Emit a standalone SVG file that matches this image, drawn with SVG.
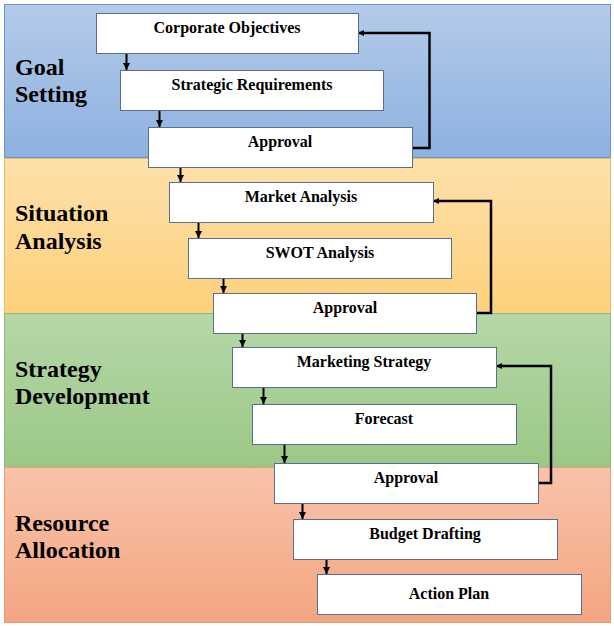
<svg xmlns="http://www.w3.org/2000/svg" width="614" height="626" viewBox="0 0 614 626">
  <defs>
    <linearGradient id="gBlue" x1="0" y1="0" x2="0" y2="1">
      <stop offset="0" stop-color="#b4cbe9"/>
      <stop offset="1" stop-color="#8db1df"/>
    </linearGradient>
    <linearGradient id="gOrange" x1="0" y1="0" x2="0" y2="1">
      <stop offset="0" stop-color="#fee0aa"/>
      <stop offset="1" stop-color="#fdd17b"/>
    </linearGradient>
    <linearGradient id="gGreen" x1="0" y1="0" x2="0" y2="1">
      <stop offset="0" stop-color="#b6d7a8"/>
      <stop offset="1" stop-color="#9bc886"/>
    </linearGradient>
    <linearGradient id="gSalmon" x1="0" y1="0" x2="0" y2="1">
      <stop offset="0" stop-color="#f9c3aa"/>
      <stop offset="1" stop-color="#f4a581"/>
    </linearGradient>
    <marker id="ah" viewBox="0 0 10 10" refX="10" refY="5" markerWidth="7" markerHeight="7" markerUnits="userSpaceOnUse" orient="auto">
      <path d="M0,0 L10,5 L0,10 z" fill="#000"/>
    </marker>
    <marker id="ahs" viewBox="0 0 10 10" refX="10" refY="5" markerWidth="6" markerHeight="6" markerUnits="userSpaceOnUse" orient="auto">
      <path d="M0,0 L10,5 L0,10 z" fill="#000"/>
    </marker>
  </defs>
  <style>
    .band { stroke-width: 1; }
    .box { fill: #ffffff; stroke: #5b6f8c; stroke-width: 1; }
    .bt { font-family: "Liberation Serif", "Times New Roman", serif; font-weight: bold; font-size: 16px; fill: #000; text-anchor: middle; }
    .lbl { font-family: "Liberation Serif", "Times New Roman", serif; font-weight: bold; font-size: 24px; fill: #000; }
    .arr { fill: none; stroke: #000; stroke-width: 2; marker-end: url(#ah); }
    .fb { fill: none; stroke: #000; stroke-width: 2.5; marker-end: url(#ahs); }
  </style>

  <rect width="614" height="626" fill="#ffffff"/>

  <g id="bands">
    <g id="band-goal">
      <rect class="band" x="4.5" y="4.5" width="606" height="153" fill="url(#gBlue)" stroke="#6f93c6"/>
      <text class="lbl" x="15" y="75">Goal</text>
      <text class="lbl" x="15" y="102">Setting</text>
    </g>
    <g id="band-situation">
      <rect class="band" x="4.5" y="158.5" width="606" height="155" fill="url(#gOrange)" stroke="#e3bd6c"/>
      <text class="lbl" x="15" y="221">Situation</text>
      <text class="lbl" x="15" y="249">Analysis</text>
    </g>
    <g id="band-strategy">
      <rect class="band" x="4.5" y="313.5" width="606" height="154" fill="url(#gGreen)" stroke="#8fb87d"/>
      <text class="lbl" x="15" y="377">Strategy</text>
      <text class="lbl" x="15" y="404">Development</text>
    </g>
    <g id="band-resource">
      <rect class="band" x="4.5" y="467.5" width="606" height="155" fill="url(#gSalmon)" stroke="#e39c7c"/>
      <text class="lbl" x="15" y="531">Resource</text>
      <text class="lbl" x="15" y="558">Allocation</text>
    </g>
  </g>

  <g id="connectors">
    <path class="arr" d="M126.5,53 V70"/>
    <path class="arr" d="M159.5,110 V127"/>
    <path class="arr" d="M180.5,167 V182"/>
    <path class="arr" d="M198.5,222 V238"/>
    <path class="arr" d="M223.5,278 V293"/>
    <path class="arr" d="M242.5,333 V347"/>
    <path class="arr" d="M263.5,387 V404"/>
    <path class="arr" d="M284.5,444 V463"/>
    <path class="arr" d="M302.5,503 V519"/>
    <path class="arr" d="M326.5,559 V574"/>
    <path class="fb" d="M412,148 H429.5 V33 H358"/>
    <path class="fb" d="M476,313 H491 V201 H433"/>
    <path class="fb" d="M538,483 H551 V366 H496"/>
  </g>

  <g id="n-corporate-objectives">
    <rect class="box" x="96.5" y="13.5" width="262" height="40"/>
    <text class="bt" x="227" y="33">Corporate Objectives</text>
  </g>
  <g id="n-strategic-requirements">
    <rect class="box" x="120.5" y="70.5" width="263" height="40"/>
    <text class="bt" x="252" y="90">Strategic Requirements</text>
  </g>
  <g id="n-approval-1">
    <rect class="box" x="148.5" y="127.5" width="264" height="40"/>
    <text class="bt" x="280" y="147">Approval</text>
  </g>
  <g id="n-market-analysis">
    <rect class="box" x="169.5" y="182.5" width="264" height="40"/>
    <text class="bt" x="301" y="202">Market Analysis</text>
  </g>
  <g id="n-swot-analysis">
    <rect class="box" x="188.5" y="238.5" width="263" height="40"/>
    <text class="bt" x="320" y="258">SWOT Analysis</text>
  </g>
  <g id="n-approval-2">
    <rect class="box" x="213.5" y="293.5" width="263" height="40"/>
    <text class="bt" x="345" y="313">Approval</text>
  </g>
  <g id="n-marketing-strategy">
    <rect class="box" x="232.5" y="347.5" width="264" height="40"/>
    <text class="bt" x="364" y="367">Marketing Strategy</text>
  </g>
  <g id="n-forecast">
    <rect class="box" x="252.5" y="404.5" width="264" height="40"/>
    <text class="bt" x="384" y="424">Forecast</text>
  </g>
  <g id="n-approval-3">
    <rect class="box" x="274.5" y="463.5" width="264" height="40"/>
    <text class="bt" x="406" y="483">Approval</text>
  </g>
  <g id="n-budget-drafting">
    <rect class="box" x="293.5" y="519.5" width="264" height="40"/>
    <text class="bt" x="425" y="539">Budget Drafting</text>
  </g>
  <g id="n-action-plan">
    <rect class="box" x="317.5" y="574.5" width="264" height="40"/>
    <text class="bt" x="449" y="599">Action Plan</text>
  </g>
</svg>
